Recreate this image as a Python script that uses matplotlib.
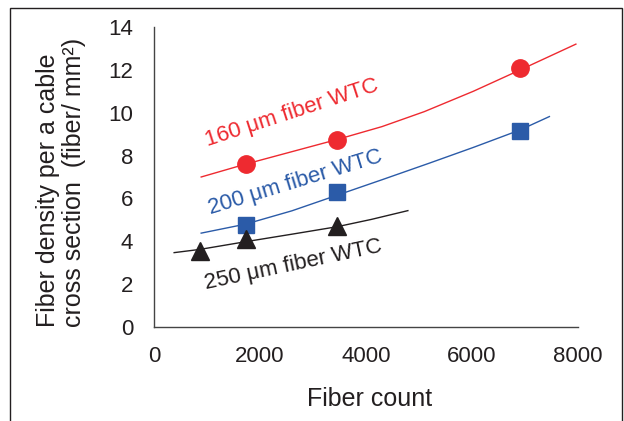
import matplotlib
matplotlib.use("Agg")
import matplotlib.pyplot as plt
from matplotlib.patches import Rectangle

plt.rcParams['font.family'] = ['Liberation Sans', 'DejaVu Sans']

# measured points
fiber_counts = [1728, 3456, 6912]
density_160 = [7.62, 8.73, 12.1]
density_200 = [4.78, 6.28, 9.16]
counts_250 = [864, 1728, 3456]
density_250 = [3.56, 4.09, 4.71]

# trend lines
trend_160_x = [890, 1728, 2600, 3456, 4300, 5100, 6025, 6912, 7960]
trend_160_y = [7.0, 7.6, 8.18, 8.75, 9.35, 10.05, 11.0, 12.0, 13.2]
trend_200_x = [890, 1728, 2600, 3456, 4300, 5200, 6025, 6912, 7460]
trend_200_y = [4.38, 4.8, 5.42, 6.15, 6.87, 7.65, 8.38, 9.2, 9.82]
trend_250_x = [380, 864, 1728, 2600, 3456, 4100, 4790]
trend_250_y = [3.47, 3.62, 3.98, 4.33, 4.68, 5.02, 5.43]

red = '#ee2a30'
blue = '#2b5ba8'
black = '#231f20'

fig = plt.figure(figsize=(6.24, 4.21), dpi=100)
ax = fig.add_axes([0.2468, 0.2233, 0.6795, 0.7126])

ax.plot(trend_160_x, trend_160_y, color=red, lw=1)
ax.plot(trend_200_x, trend_200_y, color=blue, lw=1)
ax.plot(trend_250_x, trend_250_y, color=black, lw=1)

ax.plot(fiber_counts, density_160, 'o', color=red, ms=12.5, zorder=3)
ax.plot(fiber_counts, density_200, 's', color=blue, ms=11.5, zorder=3)
ax.plot(counts_250, density_250, '^', color=black, ms=13, zorder=3)

ax.text(2600, 10.0, '160 μm fiber WTC', color=red, fontsize=16,
        rotation=18, ha='center', va='center', rotation_mode='anchor')
ax.text(2670, 6.73, '200 μm fiber WTC', color=blue, fontsize=16,
        rotation=17, ha='center', va='center', rotation_mode='anchor')
ax.text(2620, 2.9, '250 μm fiber WTC', color=black, fontsize=16,
        rotation=12, ha='center', va='center', rotation_mode='anchor')

ax.set_xlim(0, 8000)
ax.set_ylim(0, 14)
ax.set_xticks(range(0, 8001, 2000))
ax.set_yticks(range(0, 15, 2))
ax.tick_params(length=0, labelsize=16, colors=black)
ax.tick_params(axis='x', pad=14)
ax.tick_params(axis='y', pad=15)
for s in ['top', 'right']:
    ax.spines[s].set_visible(False)
for s in ['left', 'bottom']:
    ax.spines[s].set_color('#444444')
    ax.spines[s].set_linewidth(1)

fig.text(370 / 624, 1 - 399 / 421, 'Fiber count', fontsize=18, color=black,
         ha='center', va='center')
fig.text(61 / 624, 1 - 182 / 421,
         'Fiber density per a cable\ncross section  (fiber/ mm²)',
         fontsize=18, color=black, rotation=90, ha='center', va='center',
         multialignment='left', linespacing=1.08)

# frame around the figure (no bottom edge)
fig.patches.append(Rectangle((10 / 624, -0.05), 612 / 624, 1.05 - 8 / 421,
                             transform=fig.transFigure, fill=False,
                             edgecolor=black, lw=1))

fig.savefig('out.png', dpi=100)
